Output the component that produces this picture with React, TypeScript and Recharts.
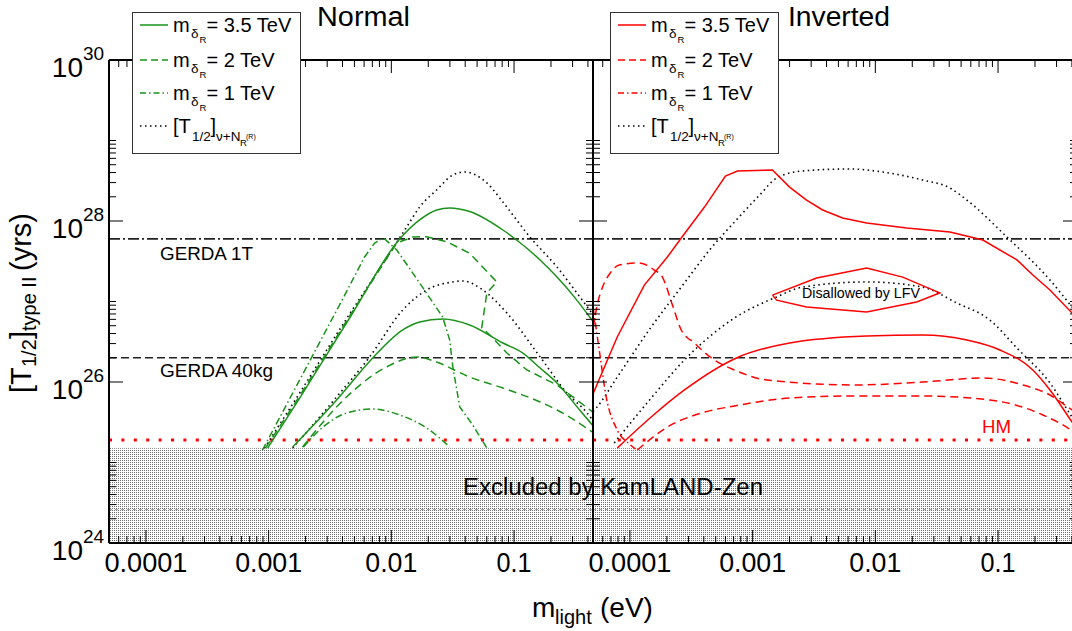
import React from "react";
import { LineChart, Line, XAxis, YAxis, ReferenceLine, ReferenceArea } from "recharts";

const FONT = "'Liberation Sans', Arial, Helvetica, sans-serif";
const GREEN = "#1a921a";
const RED = "#ff0000";

// plot box geometry (both panels share it)
const PLOT_TOP = 60;
const PLOT_H = 483;
const PLOT_W = 484;
const X_AXIS_H = 88;

const X_DOMAIN: [number, number] = [5e-5, 0.44];
const Y_DOMAIN: [number, number] = [1e24, 1e30];

const xMajor = [1e-4, 1e-3, 1e-2, 1e-1];
const xMajorLabels = ["0.0001", "0.001", "0.01", "0.1"];
const xLabelWidths = [83, 67, 52, 35];
const yMajor = [1e24, 1e26, 1e28, 1e30];
const yMajorExp = ["24", "26", "28", "30"];
const yMinorDecades = [24, 26, 28];

// limits (yrs)
const gerda1T = 6e27;
const gerda40kg = 2e26;
const hmLimit = 1.9e25;
const kamlandZen = 1.5e25;
const bandLine = 2.6e24;

const legendMasses = ["3.5", "2", "1"];

// ---- Normal hierarchy (x: m_light in eV, y: T1/2 in yrs)
const normal35Upper = [
  { x: 9.8e-4, y: 1.51e25 }, { x: 1.79e-3, y: 6.32e25 }, { x: 4.57e-3, y: 6.24e26 },
  { x: 0.0117, y: 5.97e27 }, { x: 0.017, y: 1.03e28 }, { x: 0.0234, y: 1.37e28 },
  { x: 0.0299, y: 1.45e28 }, { x: 0.0435, y: 1.31e28 }, { x: 0.0811, y: 7.73e27 },
  { x: 0.105, y: 5.81e27 }, { x: 0.163, y: 3.28e27 }, { x: 0.224, y: 2.01e27 },
  { x: 0.314, y: 1.11e27 }, { x: 0.449, y: 5.41e26 },
];
const normalDotUpper = [
  { x: 9.25e-4, y: 1.51e25 }, { x: 1.79e-3, y: 7.3e25 }, { x: 4.57e-3, y: 6.99e26 },
  { x: 9.16e-3, y: 3.47e27 }, { x: 0.01333, y: 8.42e27 }, { x: 0.017, y: 1.49e28 },
  { x: 0.0234, y: 2.43e28 }, { x: 0.0317, y: 3.73e28 }, { x: 0.0397, y: 4.06e28 },
  { x: 0.06, y: 2.97e28 }, { x: 0.0811, y: 1.72e28 }, { x: 0.1346, y: 6.33e27 },
  { x: 0.224, y: 2.68e27 }, { x: 0.344, y: 1.14e27 }, { x: 0.449, y: 6.61e26 },
];
const normal2Upper = [
  { x: 9.42e-4, y: 1.51e25 }, { x: 1.79e-3, y: 6.7e25 }, { x: 4.57e-3, y: 6.61e26 },
  { x: 0.01107, y: 5.33e27 }, { x: 0.01493, y: 6.33e27 }, { x: 0.01941, y: 6.38e27 },
  { x: 0.0283, y: 5.53e27 }, { x: 0.0435, y: 3.97e27 }, { x: 0.0724, y: 1.75e27 },
  { x: 0.06, y: 1.28e27 }, { x: 0.0545, y: 4.69e26 }, { x: 0.0635, y: 3.84e26 },
  { x: 0.0875, y: 2.29e26 }, { x: 0.1274, y: 1.41e26 }, { x: 0.224, y: 9.18e25 },
  { x: 0.449, y: 4.12e25 },
];
const normal1Upper = [
  { x: 8.91e-4, y: 1.43e25 }, { x: 1.79e-3, y: 1.06e26 }, { x: 3.78e-3, y: 9.05e26 },
  { x: 6.05e-3, y: 3.57e27 }, { x: 7.31e-3, y: 5.33e27 }, { x: 8.65e-3, y: 6.15e27 },
  { x: 0.01107, y: 4.36e27 }, { x: 0.017, y: 1.7e27 }, { x: 0.0262, y: 6.42e26 },
  { x: 0.0299, y: 3.32e26 }, { x: 0.0317, y: 1.54e26 }, { x: 0.0361, y: 4.89e25 },
  { x: 0.0461, y: 2.92e25 }, { x: 0.06, y: 1.51e25 },
];
const normalDotLower = [
  { x: 1.57e-3, y: 1.51e25 }, { x: 3.58e-3, y: 6.51e25 }, { x: 6.65e-3, y: 2.05e26 },
  { x: 0.01239, y: 7.84e26 }, { x: 0.01941, y: 1.39e27 }, { x: 0.0317, y: 1.75e27 },
  { x: 0.0382, y: 1.8e27 }, { x: 0.0557, y: 1.39e27 }, { x: 0.0875, y: 7.19e26 },
  { x: 0.163, y: 2.05e26 }, { x: 0.27, y: 7.3e25 }, { x: 0.394, y: 4.12e25 },
  { x: 0.449, y: 3.18e25 },
];
const normal35Lower = [
  { x: 1.57e-3, y: 1.56e25 }, { x: 3.58e-3, y: 5.98e25 }, { x: 7.05e-3, y: 1.99e26 },
  { x: 0.01239, y: 4.43e26 }, { x: 0.017, y: 5.56e26 }, { x: 0.0262, y: 6.06e26 },
  { x: 0.0435, y: 5.11e26 }, { x: 0.0811, y: 3.05e26 }, { x: 0.118, y: 2.29e26 },
  { x: 0.163, y: 1.49e26 }, { x: 0.224, y: 9.72e25 }, { x: 0.344, y: 4.45e25 },
  { x: 0.449, y: 2.76e25 },
];
const normal2Lower = [
  { x: 1.89e-3, y: 1.56e25 }, { x: 4.31e-3, y: 6.51e25 }, { x: 9.16e-3, y: 1.54e26 },
  { x: 0.0161, y: 2.05e26 }, { x: 0.0234, y: 1.77e26 }, { x: 0.0435, y: 1.15e26 },
  { x: 0.0811, y: 8.42e25 }, { x: 0.163, y: 5.65e25 }, { x: 0.224, y: 4.49e25 },
  { x: 0.449, y: 2.32e25 },
];
const normal1Lower = [
  { x: 1.92e-3, y: 1.56e25 }, { x: 2.6e-3, y: 2.53e25 }, { x: 4.31e-3, y: 4.12e25 },
  { x: 7.05e-3, y: 4.62e25 }, { x: 0.0117, y: 3.89e25 }, { x: 0.01941, y: 2.68e25 },
  { x: 0.0299, y: 1.56e25 },
];

// ---- Inverted hierarchy
const inv35Upper = [
  { x: 5e-5, y: 7.1e25 }, { x: 7.88e-5, y: 3.62e26 }, { x: 1.31e-4, y: 1.6e27 },
  { x: 2.02e-4, y: 3.57e27 }, { x: 2.62e-4, y: 6.15e27 }, { x: 4.05e-4, y: 1.49e28 },
  { x: 6e-4, y: 3.62e28 }, { x: 7.52e-4, y: 4.18e28 }, { x: 1.45e-3, y: 4.3e28 },
  { x: 2e-3, y: 2.64e28 }, { x: 2.75e-3, y: 1.82e28 }, { x: 3.72e-3, y: 1.37e28 },
  { x: 5.41e-3, y: 1.09e28 }, { x: 8.49e-3, y: 9.44e27 }, { x: 0.018, y: 8.18e27 },
  { x: 0.0405, y: 7.3e27 }, { x: 0.0752, y: 5.81e27 }, { x: 0.1426, y: 3.28e27 },
  { x: 0.192, y: 2.13e27 }, { x: 0.265, y: 1.39e27 }, { x: 0.401, y: 7.19e26 },
  { x: 0.44, y: 6e26 },
];
const invDotUpper = [
  { x: 5e-5, y: 4.3e25 }, { x: 5.31e-5, y: 4.75e25 }, { x: 7.88e-5, y: 1.15e26 },
  { x: 1.49e-4, y: 4.82e26 }, { x: 2.78e-4, y: 1.7e27 }, { x: 4.45e-4, y: 4.36e27 },
  { x: 7.11e-4, y: 9.72e27 }, { x: 1.14e-3, y: 2.1e28 }, { x: 1.57e-3, y: 3.42e28 },
  { x: 2.55e-3, y: 4.18e28 }, { x: 6.18e-3, y: 4.43e28 }, { x: 0.01148, y: 4.06e28 },
  { x: 0.0243, y: 3.23e28 }, { x: 0.0405, y: 2.57e28 }, { x: 0.0557, y: 1.82e28 },
  { x: 0.118, y: 6.33e27 }, { x: 0.265, y: 1.85e27 }, { x: 0.401, y: 8.55e26 },
  { x: 0.44, y: 7.2e26 },
];
const inv2Upper = [
  { x: 5.02e-5, y: 4.69e26 }, { x: 5.41e-5, y: 9.05e26 }, { x: 5.94e-5, y: 1.47e27 },
  { x: 6.91e-5, y: 2.26e27 }, { x: 8.18e-5, y: 2.84e27 }, { x: 1.19e-4, y: 3.01e27 },
  { x: 1.58e-4, y: 2.46e27 }, { x: 1.84e-4, y: 2.01e27 }, { x: 2.22e-4, y: 9.05e26 },
  { x: 2.62e-4, y: 4.43e26 }, { x: 3.35e-4, y: 3.05e26 }, { x: 4.61e-4, y: 1.99e26 },
  { x: 7.11e-4, y: 1.41e26 }, { x: 1.3e-3, y: 1.06e26 }, { x: 7.05e-3, y: 9.18e25 },
  { x: 0.0243, y: 1e26 }, { x: 0.0752, y: 1.12e26 }, { x: 0.16, y: 9.18e25 },
  { x: 0.265, y: 6.9e25 }, { x: 0.401, y: 4.49e25 }, { x: 0.44, y: 4.1e25 },
];
const inv1Upper = [
  { x: 5.02e-5, y: 8.3e26 }, { x: 5.62e-5, y: 2.5e26 }, { x: 6.41e-5, y: 6.51e25 },
  { x: 7.88e-5, y: 2.53e25 }, { x: 9.89e-5, y: 1.7e25 }, { x: 1.11e-4, y: 1.47e25 },
];
const invDotLower = [
  { x: 7.45e-5, y: 1.75e25 }, { x: 1.49e-4, y: 6.32e25 }, { x: 2.78e-4, y: 1.88e26 },
  { x: 7.11e-4, y: 6.24e26 }, { x: 1.57e-3, y: 1.14e27 }, { x: 2.55e-3, y: 1.51e27 },
  { x: 8.49e-3, y: 1.75e27 }, { x: 0.0243, y: 1.51e27 }, { x: 0.0461, y: 9.58e26 },
  { x: 0.0857, y: 5.89e26 }, { x: 0.1426, y: 2.64e26 }, { x: 0.265, y: 9.72e25 },
  { x: 0.401, y: 3.67e25 }, { x: 0.44, y: 3e25 },
];
const inv35Lower = [
  { x: 7.88e-5, y: 1.51e25 }, { x: 1.49e-4, y: 3.67e25 }, { x: 2.78e-4, y: 7.96e25 },
  { x: 7.38e-4, y: 1.99e26 }, { x: 2e-3, y: 3.05e26 }, { x: 8.49e-3, y: 3.73e26 },
  { x: 0.0243, y: 3.84e26 }, { x: 0.0557, y: 3.32e26 }, { x: 0.1035, y: 2.5e26 },
  { x: 0.192, y: 1.41e26 }, { x: 0.265, y: 7.96e25 }, { x: 0.401, y: 3.18e25 },
  { x: 0.44, y: 2.6e25 },
];
const inv2Lower = [
  { x: 1.15e-4, y: 1.43e25 }, { x: 2.02e-4, y: 2.76e25 }, { x: 3.82e-4, y: 4.12e25 },
  { x: 7.11e-4, y: 5.04e25 }, { x: 2e-3, y: 6.32e25 }, { x: 7.05e-3, y: 6.7e25 },
  { x: 0.0243, y: 6.7e25 }, { x: 0.0857, y: 5.98e25 }, { x: 0.232, y: 3.89e25 },
  { x: 0.401, y: 2.46e25 }, { x: 0.44, y: 2.2e25 },
];
const lfvRegion = [
  { x: 1.45e-3, y: 1.2e27 }, { x: 3.32e-3, y: 1.96e27 }, { x: 8.49e-3, y: 2.61e27 },
  { x: 0.0167, y: 2.01e27 }, { x: 0.0335, y: 1.28e27 }, { x: 0.0217, y: 9.86e26 },
  { x: 8.49e-3, y: 7.41e26 }, { x: 2.75e-3, y: 8.55e26 }, { x: 1.57e-3, y: 1.04e27 },
  { x: 1.45e-3, y: 1.2e27 },
];

const DASHED = "8 5";
const DASHDOT = "7 3 1.5 3";
const DOTTED = "1.5 3.5";

type Series = { key: string; data: { x: number; y: number }[]; color: string; dash?: string; curve: "linear" | "monotoneX" };

const normalSeries: Series[] = [
  { key: "nDotU", data: normalDotUpper, color: "#000", dash: DOTTED, curve: "monotoneX" },
  { key: "nDotL", data: normalDotLower, color: "#000", dash: DOTTED, curve: "monotoneX" },
  { key: "n35U", data: normal35Upper, color: GREEN, curve: "monotoneX" },
  { key: "n35L", data: normal35Lower, color: GREEN, curve: "monotoneX" },
  { key: "n2U", data: normal2Upper, color: GREEN, dash: DASHED, curve: "linear" },
  { key: "n2L", data: normal2Lower, color: GREEN, dash: DASHED, curve: "monotoneX" },
  { key: "n1U", data: normal1Upper, color: GREEN, dash: DASHDOT, curve: "linear" },
  { key: "n1L", data: normal1Lower, color: GREEN, dash: DASHDOT, curve: "monotoneX" },
];
const invertedSeries: Series[] = [
  { key: "iDotU", data: invDotUpper, color: "#000", dash: DOTTED, curve: "monotoneX" },
  { key: "iDotL", data: invDotLower, color: "#000", dash: DOTTED, curve: "monotoneX" },
  { key: "i35U", data: inv35Upper, color: RED, curve: "linear" },
  { key: "i35L", data: inv35Lower, color: RED, curve: "monotoneX" },
  { key: "i2U", data: inv2Upper, color: RED, dash: DASHED, curve: "monotoneX" },
  { key: "i2L", data: inv2Lower, color: RED, dash: DASHED, curve: "monotoneX" },
  { key: "i1U", data: inv1Upper, color: RED, dash: DASHDOT, curve: "monotoneX" },
  { key: "lfv", data: lfvRegion, color: RED, curve: "linear" },
];

const xTicks: number[] = [];
for (let e = -5; e <= -1; e++) {
  for (let m = 1; m <= 9; m++) {
    const v = m * Math.pow(10, e);
    if (v >= X_DOMAIN[0] * 0.999 && v <= X_DOMAIN[1]) xTicks.push(v);
  }
}
const yTicks: number[] = [...yMajor];
yMinorDecades.forEach((e) => {
  for (let m = 2; m <= 10; m++) yTicks.push(m * Math.pow(10, e));
});

const majorIndex = (v: number, list: number[]) => list.findIndex((t) => Math.abs(Math.log10(v / t)) < 1e-6);

const XTick = (props: any) => {
  const { x, y, payload } = props;
  const i = majorIndex(payload.value, xMajor);
  const len = i >= 0 ? 13 : 7;
  return (
    <g>
      <line x1={x} x2={x} y1={y} y2={y - len} stroke="#000" />
      <line x1={x} x2={x} y1={y - PLOT_H} y2={y - PLOT_H + len} stroke="#000" />
      {i >= 0 && (
        <text
          x={x}
          y={y + 29}
          textAnchor="middle"
          fontSize={27}
          fontFamily={FONT}
          fill="#000"
          textLength={xLabelWidths[i]}
          lengthAdjust="spacingAndGlyphs"
        >
          {xMajorLabels[i]}
        </text>
      )}
    </g>
  );
};

const makeYTick = (labels: boolean) => (props: any) => {
  const { x, y, payload } = props;
  const i = majorIndex(payload.value, yMajor);
  const len = i >= 0 ? 14 : 7;
  return (
    <g>
      <line x1={x} x2={x + len} y1={y} y2={y} stroke="#000" />
      <line x1={x + PLOT_W} x2={x + PLOT_W - len} y1={y} y2={y} stroke="#000" />
      {labels && i >= 0 && (
        <g fontFamily={FONT} fill="#000">
          <text x={x - 26} y={y + 17} textAnchor="end" fontSize={28}>10</text>
          <text x={x - 26} y={y} fontSize={19}>{yMajorExp[i]}</text>
        </g>
      )}
    </g>
  );
};

function Panel({ id, series, yAxisWidth, yLabels }: { id: string; series: Series[]; yAxisWidth: number; yLabels: boolean }) {
  return (
    <LineChart
      width={yAxisWidth + PLOT_W + 10}
      height={PLOT_TOP + PLOT_H + X_AXIS_H}
      margin={{ top: PLOT_TOP, right: 10, bottom: 0, left: 0 }}
    >
      <defs>
        <pattern id={`dots-${id}`} width="2" height="2" patternUnits="userSpaceOnUse">
          <rect width="2" height="2" fill="#fff" />
          <rect width="1" height="1" fill="#6e6e6e" />
        </pattern>
      </defs>
      <XAxis
        dataKey="x"
        type="number"
        scale="log"
        domain={X_DOMAIN}
        allowDataOverflow
        ticks={xTicks}
        interval={0}
        tickSize={0}
        tickMargin={0}
        tickLine={false}
        axisLine={{ stroke: "#000", strokeWidth: 2 }}
        height={X_AXIS_H}
        tick={XTick}
      />
      <YAxis
        dataKey="y"
        type="number"
        scale="log"
        domain={Y_DOMAIN}
        allowDataOverflow
        ticks={yTicks}
        interval={0}
        tickSize={0}
        tickMargin={0}
        tickLine={false}
        axisLine={{ stroke: "#000", strokeWidth: 2 }}
        width={yAxisWidth}
        tick={makeYTick(yLabels)}
      />
      <ReferenceArea y1={Y_DOMAIN[0]} y2={kamlandZen} fill={`url(#dots-${id})`} fillOpacity={1} stroke="none" />
      <ReferenceLine y={bandLine} stroke="#9a9a9a" strokeDasharray="3 3" />
      <ReferenceLine y={gerda1T} stroke="#222" strokeWidth={1.6} strokeDasharray="11 3 2 3" />
      <ReferenceLine y={gerda40kg} stroke="#222" strokeWidth={1.6} strokeDasharray="8 4" />
      <ReferenceLine y={hmLimit} stroke={RED} strokeWidth={3} strokeDasharray="3 9.4" />
      <ReferenceLine y={Y_DOMAIN[1]} stroke="#000" strokeWidth={2} />
      <ReferenceLine x={X_DOMAIN[1]} stroke="#000" strokeWidth={2} />
      {series.map((s) => (
        <Line
          key={s.key}
          data={s.data}
          dataKey="y"
          type={s.curve}
          stroke={s.color}
          strokeWidth={s.color === "#000" ? 1.6 : 1.5}
          strokeDasharray={s.dash}
          dot={false}
          activeDot={false}
          isAnimationActive={false}
        />
      ))}
    </LineChart>
  );
}

// each text piece placed on its own so sub/superscripts land where the original has them
function LegendBox({ x, color }: { x: number; color: string }) {
  const rowsY = [25, 60, 93, 126];
  const dashes = [undefined, "7 4", "6 3 1.5 3"];
  const t = x + 41;
  return (
    <g fontFamily={FONT} fill="#000">
      <rect x={x + 0.5} y={12.5} width={168} height={141} fill="#fff" stroke="#333" />
      {legendMasses.map((m, i) => {
        const b = rowsY[i] + 7;
        return (
          <g key={m}>
            <line x1={x + 8} x2={x + 36} y1={rowsY[i]} y2={rowsY[i]} stroke={color} strokeWidth={1.5} strokeDasharray={dashes[i]} />
            <text x={t} y={b} fontSize={20}>m</text>
            <text x={t + 18} y={b + 6} fontSize={13.5}>δ</text>
            <text x={t + 26.5} y={b + 11} fontSize={9.5}>R</text>
            <text x={t + 33.5} y={b} fontSize={20}>= {m} TeV</text>
          </g>
        );
      })}
      <line x1={x + 8} x2={x + 36} y1={rowsY[3]} y2={rowsY[3]} stroke="#000" strokeWidth={1.6} strokeDasharray={DOTTED} />
      <text x={t} y={rowsY[3] + 7} fontSize={20}>[T</text>
      <text x={t + 19} y={rowsY[3] + 15} fontSize={13.5}>1/2</text>
      <text x={t + 37.5} y={rowsY[3] + 7} fontSize={20}>]</text>
      <text x={t + 43} y={rowsY[3] + 15} fontSize={13.5}>ν+N</text>
      <text x={t + 67} y={rowsY[3] + 20} fontSize={9.5}>R</text>
      <text x={t + 73} y={rowsY[3] + 13} fontSize={7}>(R)</text>
    </g>
  );
}

const fit = (w: number) => ({ textLength: w, lengthAdjust: "spacingAndGlyphs" as const });

export default function App() {
  return (
    <div style={{ position: "fixed", left: 0, top: 0, width: 1072, height: 631, overflow: "hidden", background: "#fff" }}>
      <div style={{ position: "absolute", left: 0, top: 0 }}>
        <Panel id="n" series={normalSeries} yAxisWidth={109} yLabels />
      </div>
      <div style={{ position: "absolute", left: 583, top: 0 }}>
        <Panel id="i" series={invertedSeries} yAxisWidth={10} yLabels={false} />
      </div>
      <svg width={1072} height={631} style={{ position: "absolute", left: 0, top: 0, pointerEvents: "none" }}>
        <g fontFamily={FONT} fill="#000">
          <text x={317} y={26} fontSize={27} {...fit(93)}>Normal</text>
          <text x={788} y={26} fontSize={27} {...fit(102)}>Inverted</text>
          <text x={160} y={260} fontSize={18} {...fit(93)}>GERDA 1T</text>
          <text x={160} y={377} fontSize={18} {...fit(113)}>GERDA 40kg</text>
          <text x={982} y={433} fontSize={19} fill={RED} {...fit(29)}>HM</text>
          <text x={802} y={298} fontSize={14} {...fit(118)}>Disallowed by LFV</text>
          <text x={463} y={495} fontSize={23} {...fit(300)}>Excluded by KamLAND-Zen</text>
          <g transform="translate(31,300) rotate(-90)">
            <text x={-93} y={0} fontSize={29}>[T</text>
            <text x={-67} y={5} fontSize={20}>1/2</text>
            <text x={-39} y={0} fontSize={29}>]</text>
            <text x={-31} y={5} fontSize={20}>type II</text>
            <text x={29} y={0} fontSize={29}>(yrs)</text>
          </g>
          <text x={532} y={617} fontSize={28}>m</text>
          <text x={555} y={624} fontSize={20}>light</text>
          <text x={600} y={617} fontSize={28}>(eV)</text>
        </g>
        <LegendBox x={132} color={GREEN} />
        <LegendBox x={610} color={RED} />
      </svg>
    </div>
  );
}
